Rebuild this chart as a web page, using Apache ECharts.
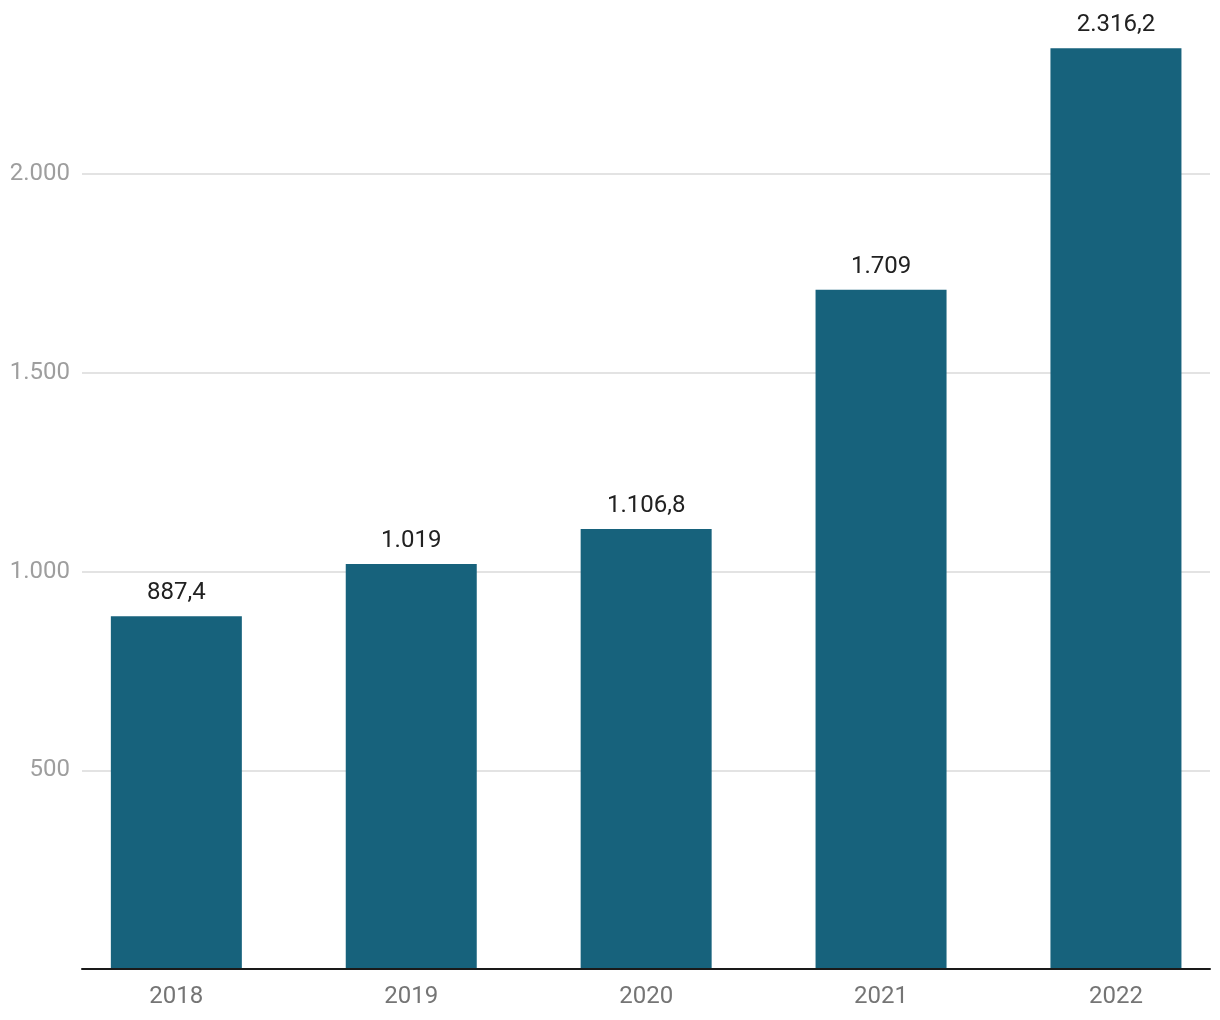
<!DOCTYPE html>
<html>
<head>
<meta charset="utf-8">
<script src="https://cdn.jsdelivr.net/npm/echarts@6/dist/echarts.min.js"></script>
<style>html,body{margin:0;padding:0;background:#fff}#c{width:1220px;height:1020px}</style>
</head>
<body>
<div id="c"></div>
<script>
const categories = ['2018', '2019', '2020', '2021', '2022'];
const values = [887.4, 1019, 1106.8, 1709, 2316.2];
const yTicks = [0, 500, 1000, 1500, 2000];

function fmt(v) {
  const parts = String(v).split('.');
  const int = parts[0].replace(/\B(?=(\d{3})+(?!\d))/g, '.');
  return parts.length > 1 ? int + ',' + parts[1] : int;
}

const chart = echarts.init(document.getElementById('c'), null, {renderer: 'canvas'});
const TOP = -24.75, BOTTOM = 51;
chart.setOption({
  animation: false,
  textStyle: {fontFamily: 'Roboto'},
  grid: [
    {left: 82, right: 10, top: TOP, bottom: BOTTOM, containLabel: false, outerBoundsMode: 'none'},
    {left: 58.9, width: 1174.5, top: TOP, bottom: BOTTOM, containLabel: false, outerBoundsMode: 'none'}
  ],
  xAxis: [
    {gridIndex: 0, type: 'value', min: 0, max: 1, axisLabel: {show: false}, axisTick: {show: false}, splitLine: {show: false},
     axisLine: {show: true, onZero: false, lineStyle: {color: '#1a1a1a', width: 2}}, z: 10},
    {gridIndex: 1, type: 'category', data: categories, axisLine: {show: false}, axisTick: {show: false},
     axisLabel: {color: '#757575', fontSize: 24, margin: 16, fontFamily: 'Roboto'}}
  ],
  yAxis: [
    {gridIndex: 0, type: 'value', min: 0, max: 2500, interval: 500,
     axisLine: {show: false}, axisTick: {show: false},
     axisLabel: {color: '#9e9e9e', fontSize: 24, margin: 12, fontFamily: 'Roboto',
       formatter: v => (v === 0 || yTicks.indexOf(v) < 0) ? '' : fmt(v)},
     splitLine: {show: true, lineStyle: {color: '#e3e3e3', width: 2}}},
    {gridIndex: 1, type: 'value', min: 0, max: 2500, interval: 500, show: false, splitLine: {show: false}}
  ],
  series: [{
    type: 'bar', xAxisIndex: 1, yAxisIndex: 1, data: values, barWidth: 131,
    itemStyle: {color: '#17627c'},
    label: {show: true, position: 'top', distance: 11, color: '#212121', fontSize: 24, fontFamily: 'Roboto',
      formatter: p => fmt(p.value)}
  }]
});
</script>
</body>
</html>
